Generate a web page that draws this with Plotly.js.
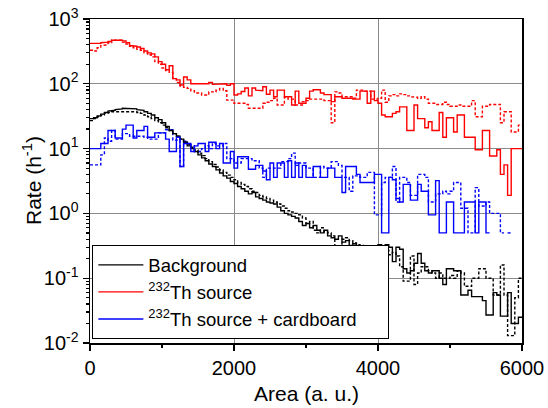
<!DOCTYPE html>
<html>
<head>
<meta charset="utf-8">
<script src="https://cdn.plot.ly/plotly-3.0.1.min.js"></script>
<style>html,body{margin:0;padding:0;background:#fff;}#chart{width:548px;height:408px;}</style>
</head>
<body>
<div id="chart"></div>
<script>
// Histogram bins: width 50 a.u., 0 .. 6000 (120 bins)
var binWidth = 50;
var binStart = 0;

var bgSolid = [
29,30,32,34,36,38,39,40,41,42, 42,42,41,40,39,37,35,33,30,28,
25,22,19,17,15.5,14,12.5,11,10,9, 8,7.2,6.5,5.8,5.3,4.7,4.2,3.8,3.5,3.1,
2.9,2.6,2.4,2.2,2.0,2.1,1.8,1.7,1.6,1.5, 1.45,1.4,1.25,1.1,1.0,0.95,0.9,0.85,0.75,0.65,
0.7,0.6,0.65,0.55,0.5,0.55,0.45,0.42,0.4,0.45, 0.36,0.38,0.32,0.34,0.3,0.28,0.3,0.27,0.28,0.3,
0.33,0.3,0.33,0.3,0.18,0.3,0.28,0.14,0.12,0.13, 0.17,0.24,0.17,0.13,0.12,0.13,0.13,0.1,0.08,0.14,
0.14,0.13,0.13,0.055,0.055,0.065,0.052,0.052,0.052,0.045, 0.027,0.027,0.06,0.055,0.026,0.026,0.06,0.02,0.02,0.025
];
var bgDotted = [
27,29,31,33,35,36,37,38,38,38, 38,38,37,36,35,33,31,29,27,25,
23,21,19,17,15.5,14,12.5,11.5,10.5,9.5, 8.5,7.8,7,6.3,5.7,5.2,4.7,4.3,3.9,3.6,
3.3,3.0,2.8,2.6,2.4,2.2,2.1,1.9,1.8,1.7, 1.6,1.5,1.4,1.3,1.2,1.1,1.05,1.0,0.95,0.85,
0.7,0.75,0.55,0.5,0.6,0.52,0.5,0.45,0.3,0.29, 0.4,0.42,0.38,0.35,0.33,0.32,0.3,0.28,0.3,0.26,
0.27,0.25,0.27,0.23,0.25,0.22,0.15,0.09,0.09,0.22, 0.08,0.12,0.15,0.15,0.13,0.12,0.1,0.12,0.1,0.1,
0.11,0.1,0.13,0.12,0.075,0.075,0.1,0.1,0.14,0.14, 0.1,0.1,0.055,0.055,0.16,0.055,0.013,0.013,0.05,0.1
];
var thSolid = [
420,410,420,430,440,450,470,480,470,460, 430,390,380,370,350,320,300,290,260,220,
200,165,190,120,115,96,127,115,100,100, 100,100,100,105,98,100,100,100,95,100,
67,70,76,86,65,86,80,78,90,69, 80,63,80,80,63,63,47,77,50,50,
60,77,81,81,72,68,68,53,63,63, 60,60,60,58,58,77,77,50,77,55,
50,33,31,31,35,37,44,44,19,19, 47,29,29,21,26,19,19,36,15,30,
30,18,33,33,15,15,15,9.6,9.6,19, 19,7.7,7.7,9.6,4,5.6,1.9,10,10,10
];
var thDotted = [
330,320,360,390,400,430,470,480,470,440, 410,380,360,340,330,300,280,260,220,200,
175,160,150,120,105,92,88,85,78,72, 72,67,67,75,75,80,85,78,56,56,
50,50,50,48,42,42,42,42,50,52, 55,60,47,47,62,58,58,47,47,53,
55,58,58,58,58,55,55,25,75,72, 63,63,63,60,80,80,77,77,58,58,
60,80,52,65,68,65,70,68,65,63, 62,60,63,58,50,50,48,48,52,48,
45,45,47,45,45,45,55,31,31,45, 45,48,48,48,25,37,37,18,18,23
];
var cardSolid = [
10,10,10,12,12,19,19,14.6,14.6,20, 23,23,14.6,19,19,22,15,15,17.5,17.5,
17.5,14,9,9,15,5.3,12,12,9,11, 12,12,9,12.5,12.5,10,12,6,6,9,
5,7.5,7.5,7.5,4.8,4.8,5.5,5.5,4.5,3.3, 6,3.6,6,6,3.6,6.5,3.6,6,3.6,5.5,
3.6,3.6,5.3,5.3,3.6,3.6,5,5,3.6,3.6, 2.1,5.3,5.3,5.3,4,3,3,3,3,4,
4,0.5,0.5,3.6,3.3,1.7,1.5,2.8,2.8,1.6, 1.6,2.8,2.2,2.2,0.95,0.95,3.2,0.5,0.5,1.5,
1.5,0.5,0.5,0.5,1.5,1.5,1.5,0.5,1.5,1.5, 0.5,null,null,null,null,null,null,null,null,null
];
var cardDotted = [
5.6,5.6,5.6,8,14.6,13,19,14,14,17, 17,15.5,15.5,15.5,15.5,15,14,14,14,17.5,
17.5,19.5,19.5,13.5,13.5,5.3,13,12,11,9, 9,10,11,10,12,11,11,12,7,7,
6,6,7,7,7,6.5,6.5,5,3.6,5, 5,5,5,6.3,6.3,7,8.5,5.5,6,6,
5,5,3.6,3.6,5.3,5,5,6.3,6.3,5.5, 3.6,3.6,2.2,3.8,3.8,3.6,3.6,4.3,4.3,0.95,
0.95,3,3.6,3.6,5.3,1.5,3.6,3.6,3,1.9, 1.9,4,4,3.6,1.5,1.5,2,2,2.2,2,
2.2,3,3,1.2,1.2,0.5,0.5,2.5,1.3,1.3, 1.5,1.0,1.0,1.0,0.5,null,0.5,null,null,null
];

var seriesNames = ['Background', '<sup>232</sup>Th source', '<sup>232</sup>Th source + cardboard'];
var xTitle = 'Area (a. u.)';
var yTitle = 'Rate (h<sup>-1</sup>)';
var xTickVals = [0, 2000, 4000, 6000];
var yTickVals = [0.01, 0.1, 1, 10, 100, 1000];
var yTickText = ['10<sup>-2</sup>', '10<sup>-1</sup>', '10<sup>0</sup>', '10<sup>1</sup>', '10<sup>2</sup>', '10<sup>3</sup>'];

// Build step-outline coordinates from bin values (gaps for empty bins)
function steps(vals) {
  var xs = [], ys = [];
  for (var i = 0; i < vals.length; i++) {
    var lo = binStart + i * binWidth, hi = lo + binWidth;
    if (vals[i] === null) { xs.push(null); ys.push(null); continue; }
    xs.push(lo, hi); ys.push(vals[i], vals[i]);
  }
  return {x: xs, y: ys};
}

function trace(vals, color, dash, name, show, group) {
  var s = steps(vals);
  return {
    x: s.x, y: s.y, type: 'scatter', mode: 'lines',
    line: {color: color, width: 1.4, dash: dash},
    name: name, showlegend: show, legendgroup: group,
    connectgaps: false, hoverinfo: 'skip'
  };
}

var pad = '\u00a0\u00a0\u00a0\u00a0\u00a0';
var data = [
  trace(bgDotted, '#000000', '3px,2px', seriesNames[0], false, 'g1'),
  trace(thDotted, '#ff0000', '3px,2px', seriesNames[1], false, 'g2'),
  trace(cardDotted, '#0000ff', '3px,2px', seriesNames[2], false, 'g3'),
  trace(bgSolid, '#000000', 'solid', seriesNames[0], true, 'g1'),
  trace(thSolid, '#ff0000', 'solid', seriesNames[1], true, 'g2'),
  trace(cardSolid, '#0000ff', 'solid', seriesNames[2] + pad, true, 'g3')
];

var font = "'Liberation Sans', Arial, sans-serif";
var layout = {
  width: 548, height: 408,
  margin: {l: 90, r: 26, t: 19, b: 65},
  paper_bgcolor: '#ffffff', plot_bgcolor: '#ffffff',
  font: {family: font, color: '#000', size: 20},
  showlegend: true,
  legend: {
    x: 0.005, y: 0.012, xanchor: 'left', yanchor: 'bottom',
    bgcolor: '#ffffff', bordercolor: '#000', borderwidth: 1.2,
    font: {family: font, size: 18.5, color: '#000'},
    traceorder: 'normal', tracegroupgap: 0, itemwidth: 45
  },
  xaxis: {
    range: [0, 6000], tickmode: 'array', tickvals: xTickVals,
    ticks: 'outside', ticklen: 6, tickwidth: 1.2, tickcolor: '#000',
    showline: true, linecolor: '#000', linewidth: 1.5, mirror: true,
    showgrid: true, gridcolor: '#8c8c8c', gridwidth: 1, zeroline: false,
    minor: {tickmode: 'array', tickvals: [1000, 3000, 5000], ticks: 'outside', ticklen: 3, tickcolor: '#000', showgrid: false},
    tickfont: {size: 20}
  },
  yaxis: {
    type: 'log', range: [-2, 3], tickmode: 'array', tickvals: yTickVals, ticktext: yTickText,
    ticks: 'outside', ticklen: 6, tickwidth: 1.2, tickcolor: '#000',
    showline: true, linecolor: '#000', linewidth: 1.5, mirror: true,
    showgrid: true, gridcolor: '#8c8c8c', gridwidth: 1, zeroline: false,
    minor: {dtick: 'D1', ticks: 'outside', ticklen: 3, tickcolor: '#000', showgrid: false},
    tickfont: {size: 20}
  },
  annotations: [
    {text: xTitle, xref: 'paper', yref: 'paper', x: 0.5, y: 0, yshift: -50,
     xanchor: 'center', yanchor: 'middle', showarrow: false, font: {size: 21}},
    {text: yTitle, xref: 'paper', yref: 'paper', x: 0, y: 0.5, xshift: -58,
     xanchor: 'center', yanchor: 'middle', textangle: -90, showarrow: false, font: {size: 21}}
  ]
};

Plotly.newPlot('chart', data, layout, {staticPlot: true, displayModeBar: false});
</script>
</body>
</html>
